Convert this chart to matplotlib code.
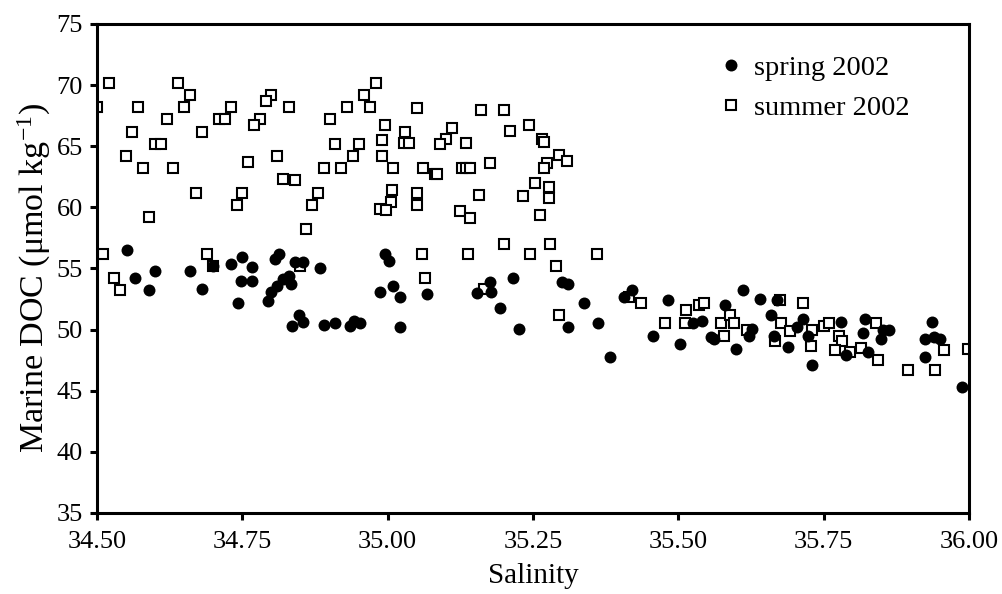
import matplotlib
matplotlib.use("Agg")
import matplotlib.pyplot as plt

plt.rcParams['font.family'] = ['Liberation Serif', 'DejaVu Serif']
plt.rcParams['mathtext.fontset'] = 'custom'
plt.rcParams['mathtext.rm'] = 'Liberation Serif'
plt.rcParams['mathtext.it'] = 'Liberation Serif:italic'

spring_sal = [34.551, 34.565, 34.60, 34.59, 34.66, 34.68, 34.70, 34.73, 34.75, 34.767,
              34.748, 34.766, 34.743, 34.813, 34.807, 34.841, 34.854, 34.831, 34.834, 34.82,
              34.81, 34.80, 34.794, 34.848, 34.855, 34.835,
              34.884, 34.996, 35.003, 34.987, 35.01, 35.022, 35.068, 35.154, 35.176, 35.177,
              35.216, 35.194, 35.226, 35.022, 34.89, 34.91, 34.936, 34.942, 34.952,
              35.30, 35.31, 35.337, 35.31, 35.362, 35.383, 35.406, 35.421, 35.456, 35.482,
              35.503, 35.526, 35.54, 35.557, 35.561, 35.581, 35.60, 35.612, 35.621,
              35.641, 35.67, 35.659, 35.627, 35.665, 35.689, 35.705, 35.715, 35.723, 35.73,
              35.78, 35.788, 35.817, 35.821, 35.827, 35.849, 35.853, 35.862, 35.937, 35.924,
              35.94, 35.95, 35.924, 35.988]
spring_doc = [56.5, 54.2, 54.8, 53.2, 54.8, 53.3, 55.2, 55.4, 55.95, 55.1,
              54.0, 54.0, 52.2, 56.2, 55.8, 55.5, 55.5, 54.4, 53.75, 54.1,
              53.6, 53.05, 52.3, 51.2, 50.6, 50.3,
              55.05, 56.2, 55.6, 53.05, 53.55, 52.7, 52.9, 53.0, 53.9, 53.05,
              54.2, 51.75, 50.05, 50.2, 50.35, 50.55, 50.3, 50.7, 50.55,
              53.9, 53.75, 52.2, 50.2, 50.5, 47.75, 52.7, 53.2, 49.5, 52.4,
              48.85, 50.5, 50.7, 49.4, 49.25, 52.05, 48.4, 53.2, 49.45,
              52.5, 52.45, 51.2, 50.05, 49.45, 48.55, 50.2, 50.9, 49.45, 47.1,
              50.6, 47.9, 49.7, 50.9, 48.2, 49.2, 49.95, 50.0, 50.6, 49.2,
              49.4, 49.25, 47.8, 45.3]

summer_sal = [34.52, 34.50, 34.64, 34.66, 34.65, 34.57, 34.62, 34.56, 34.68, 34.71,
              34.72, 34.73, 34.80, 34.79, 34.83, 34.78, 34.77, 34.60, 34.61, 34.55,
              34.58, 34.63, 34.76, 34.81, 34.82, 34.84, 34.67, 34.75, 34.74, 34.59,
              34.86, 34.87, 34.88, 34.51, 34.69, 34.53, 34.54, 34.70, 34.85,
              34.98, 34.96, 34.93, 34.97, 34.90, 35.05, 35.16, 35.20, 35.243, 35.21,
              34.995, 35.03, 35.11, 35.10, 35.09, 35.135, 34.99, 35.029, 35.036, 34.91,
              34.95, 34.94, 34.99, 34.89, 34.92, 35.01, 35.06, 35.082, 35.085, 35.128,
              35.135, 35.141, 35.176, 35.007, 35.005, 34.987, 34.998, 35.05, 35.05, 35.125,
              35.141, 35.158, 35.233, 35.059, 35.139, 35.20, 35.245, 35.065, 35.165,
              35.266, 35.269, 35.295, 35.309, 35.275, 35.269, 35.254, 35.277, 35.277, 35.262,
              35.279, 35.36, 35.289, 35.295, 35.435, 35.415, 35.478, 35.514, 35.512, 35.535,
              35.544, 35.573, 35.589, 35.596, 35.578, 35.619,
              35.675, 35.715, 35.676, 35.693, 35.667, 35.73, 35.729, 35.75, 35.759, 35.776,
              35.782, 35.77, 35.796, 35.815, 35.84, 35.843, 35.896, 35.942, 35.957, 35.998]
summer_doc = [70.2, 68.2, 70.2, 69.2, 68.2, 68.2, 67.2, 66.2, 66.2, 67.2,
              67.2, 68.2, 69.2, 68.7, 68.2, 67.2, 66.7, 65.2, 65.2, 64.2,
              63.2, 63.2, 63.7, 64.2, 62.3, 62.2, 61.2, 61.2, 60.2, 59.2,
              58.2, 60.2, 61.2, 56.2, 56.2, 54.2, 53.2, 55.2, 55.2,
              70.2, 69.2, 68.2, 68.2, 67.2, 68.1, 68.0, 68.0, 66.7, 66.25,
              66.7, 66.2, 66.5, 65.6, 65.2, 65.3, 65.5, 65.3, 65.3, 65.2,
              65.2, 64.2, 64.2, 63.2, 63.2, 63.2, 63.2, 62.7, 62.7, 63.25,
              63.25, 63.25, 63.6, 61.4, 60.4, 59.9, 59.75, 61.2, 60.2, 59.7,
              59.1, 61.0, 60.9, 56.2, 56.2, 57.0, 56.2, 54.2, 53.3,
              65.6, 65.35, 64.25, 63.8, 63.65, 63.25, 62.0, 61.7, 60.8, 59.4,
              57.0, 56.2, 55.2, 51.2, 52.2, 52.7, 50.5, 51.6, 50.5, 52.05,
              52.2, 50.5, 51.2, 50.5, 49.5, 50.0,
              52.45, 52.2, 50.5, 49.9, 49.1, 50.0, 48.7, 50.3, 50.5, 49.45,
              49.1, 48.3, 48.2, 48.5, 50.55, 47.5, 46.7, 46.7, 48.3, 48.4]

x_ticks = [34.50, 34.75, 35.00, 35.25, 35.50, 35.75, 36.00]
y_ticks = [35, 40, 45, 50, 55, 60, 65, 70, 75]

fig = plt.figure(figsize=(10.02, 5.94), dpi=100)
ax = fig.add_axes([0.0968, 0.1364, 0.967 - 0.0968, 0.9596 - 0.1364])

ax.plot(summer_sal, summer_doc, linestyle='none', marker='s', markersize=6.6,
        markerfacecolor='white', markeredgecolor='black', markeredgewidth=1.5,
        label='summer 2002', zorder=2)
ax.plot(spring_sal, spring_doc, linestyle='none', marker='o', markersize=8.6,
        markerfacecolor='black', markeredgecolor='black', markeredgewidth=0,
        label='spring 2002', zorder=3)

ax.set_xlim(34.5, 36.0)
ax.set_ylim(35, 75)
ax.set_xticks(x_ticks)
ax.set_xticklabels([f"{t:.2f}" for t in x_ticks])
ax.set_yticks(y_ticks)
for s in ax.spines.values():
    s.set_linewidth(2.2)
ax.tick_params(direction='out', length=5, width=2.2, labelsize=19)
ax.tick_params(axis='x', pad=8)
ax.tick_params(axis='y', pad=5)

ax.set_xlabel('Salinity', fontsize=21, labelpad=7)
ax.set_ylabel('Marine DOC (\u03bcmol kg$^{-1}$)', fontsize=24.5)
ax.yaxis.set_label_coords(-0.05, 0.48)

h, l = ax.get_legend_handles_labels()
ax.legend([h[1], h[0]], [l[1], l[0]], loc='upper left', bbox_to_anchor=(0.695, 0.978),
          frameon=False, fontsize=20.5, handlelength=0.6, handletextpad=0.5,
          labelspacing=0.5, borderpad=0.2)

fig.savefig('out.png', dpi=100)
